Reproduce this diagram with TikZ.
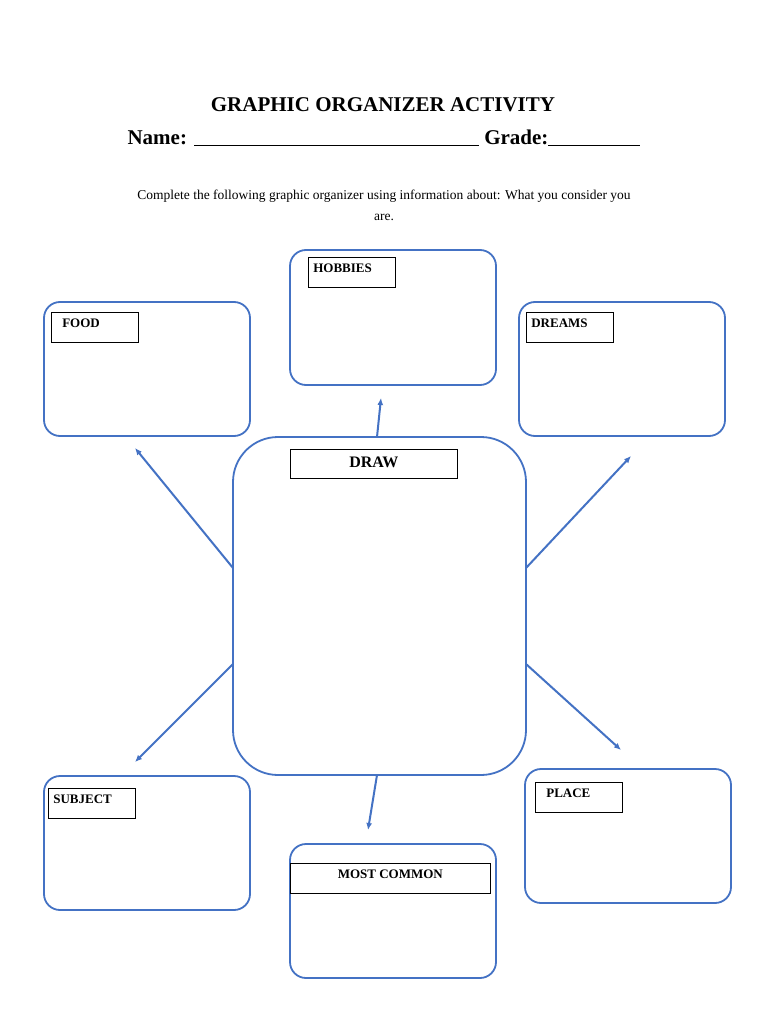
\documentclass[tikz,border=0pt]{standalone}
\usepackage{fontspec}
\setmainfont{Liberation Serif}
\definecolor{bl}{HTML}{4472C4}
\tikzset{
 card/.style={draw=bl,line width=1.8pt,rounded corners=16pt},
 lab/.style={draw=black,line width=0.6pt,font=\fontsize{13}{15}\selectfont\bfseries},
 arr/.style={draw=bl,line width=2pt,-{Latex[length=7pt,width=6pt]}}
}
\usetikzlibrary{arrows.meta}
\begin{document}
\begin{tikzpicture}[x=1pt,y=-1pt]
\useasboundingbox[fill=white] (0,0) rectangle (768,1024);
\node (title) at (383,105) {\fontsize{21}{24}\selectfont\bfseries GRAPHIC ORGANIZER ACTIVITY};
\node (name) at (384,138) {\fontsize{21}{24}\selectfont\bfseries Name: \underline{\hspace{285pt}} Grade:\underline{\hspace{92pt}}};
\node (instr) at (384,205) [align=center,font=\fontsize{13.5}{21}\selectfont] {Complete the following graphic organizer using information about: What you consider you\\are.};
% cards
\draw[card] (290,250) rectangle (496,385);
\draw[card] (44,302) rectangle (250,436);
\draw[card] (519,302) rectangle (725,436);
\draw[card,rounded corners=45pt] (233,437) rectangle (526,775);
\draw[card] (44,776) rectangle (250,910);
\draw[card] (290,844) rectangle (496,978);
\draw[card] (525,769) rectangle (731,903);
% labels
\node[lab,minimum width=87pt,minimum height=30pt,inner sep=0pt,anchor=north west,text width=77pt] (hob) at (308,257) {\raisebox{8pt}{HOBBIES}};
\node[lab,minimum width=87pt,minimum height=30pt,inner sep=0pt,anchor=north west,text width=65pt] (food) at (51,312) {\raisebox{8pt}{FOOD}};
\node[lab,minimum width=87pt,minimum height=30pt,inner sep=0pt,anchor=north west,text width=77pt] (dream) at (526,312) {\raisebox{8pt}{DREAMS}};
\node[lab,minimum width=167pt,minimum height=29pt,inner sep=0pt,anchor=north west,font=\fontsize{16}{18}\selectfont\bfseries] (draw) at (290,449) {\raisebox{3pt}{DRAW}};
\node[lab,minimum width=87pt,minimum height=30pt,inner sep=0pt,anchor=north west,text width=77pt] (subj) at (48,788) {\raisebox{8pt}{SUBJECT}};
\node[lab,minimum width=200pt,minimum height=30pt,inner sep=0pt,anchor=north west] (most) at (290,863) {\raisebox{8pt}{MOST COMMON}};
\node[lab,minimum width=87pt,minimum height=30pt,inner sep=0pt,anchor=north west,text width=65pt] (place) at (535,782) {\raisebox{8pt}{PLACE}};
% arrows
\coordinate (c1) at (377,437); \coordinate (e1) at (381,398);
\coordinate (c2) at (233,568); \coordinate (e2) at (135,448);
\coordinate (c3) at (526,568); \coordinate (e3) at (631,456);
\coordinate (c4) at (233,664); \coordinate (e4) at (135,762);
\coordinate (c5) at (526,664); \coordinate (e5) at (621,750);
\coordinate (c6) at (377,775); \coordinate (e6) at (368,830);
\foreach \i in {1,...,6} \draw[arr] (c\i) -- (e\i);
\end{tikzpicture}
\end{document}
